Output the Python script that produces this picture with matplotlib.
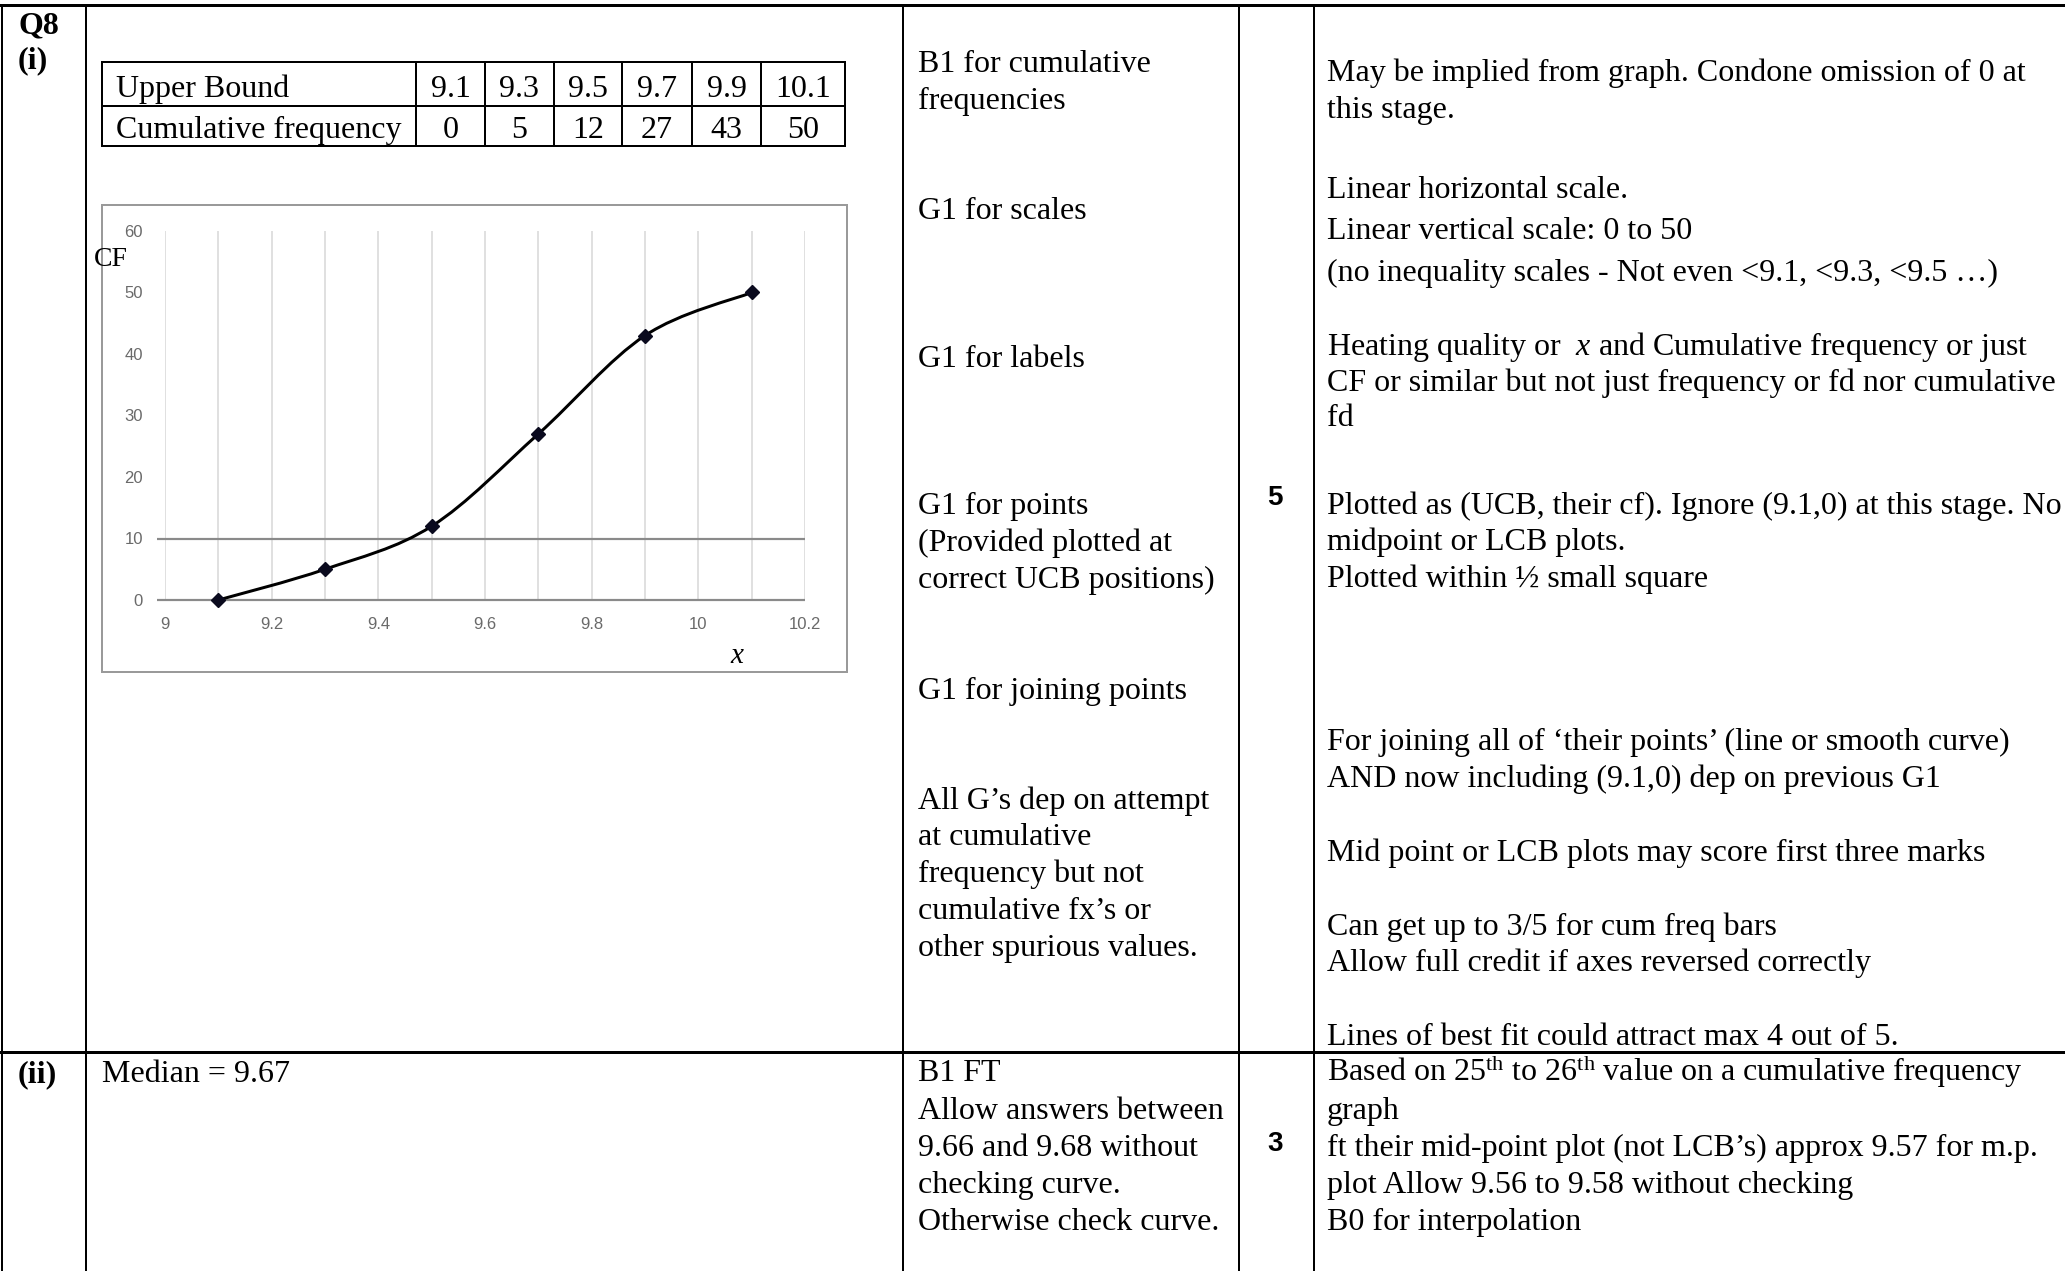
import numpy as np
import matplotlib.pyplot as plt
from matplotlib.path import Path
from matplotlib.patches import PathPatch, Rectangle

plt.rcParams['font.family'] = ['Liberation Serif', 'DejaVu Serif']
plt.rcParams['mathtext.fontset'] = 'custom'
plt.rcParams['mathtext.rm'] = 'Liberation Serif'
plt.rcParams['mathtext.it'] = 'Liberation Serif:italic'

# ---- data ----
upper_bound = [9.1, 9.3, 9.5, 9.7, 9.9, 10.1]
cum_freq = [0, 5, 12, 27, 43, 50]
x_ticks = [9, 9.2, 9.4, 9.6, 9.8, 10, 10.2]
x_tick_labels = ['9', '9.2', '9.4', '9.6', '9.8', '10', '10.2']
y_ticks = [0, 10, 20, 30, 40, 50, 60]
ref_lines = [0, 10]

marks_i = [
    (72, 'B1 for cumulative'), (109, 'frequencies'),
    (219, 'G1 for scales'),
    (367, 'G1 for labels'),
    (514, 'G1 for points'), (551, '(Provided plotted at'), (588, 'correct UCB positions)'),
    (699, 'G1 for joining points'),
    (809, 'All G\u2019s dep on attempt'), (845, 'at cumulative'),
    (882, 'frequency but not'), (919, 'cumulative fx\u2019s or'), (956, 'other spurious values.'),
]
notes_i = [
    (81, 'May be implied from graph. Condone omission of 0 at'), (118, 'this stage.'),
    (198, 'Linear horizontal scale.'),
    (239, 'Linear vertical scale: 0 to 50'),
    (281, '(no inequality scales - Not even <9.1, <9.3, <9.5 \u2026)'),
    (355, 'Heating quality or  $\\mathit{x}$ and Cumulative frequency or just'),
    (391, 'CF or similar but not just frequency or fd nor cumulative'),
    (426, 'fd'),
    (514, 'Plotted as (UCB, their cf). Ignore (9.1,0) at this stage. No'),
    (550, 'midpoint or LCB plots.'),
    (587, 'Plotted within \u00bd small square'),
    (750, 'For joining all of \u2018their points\u2019 (line or smooth curve)'),
    (787, 'AND now including (9.1,0) dep on previous G1'),
    (861, 'Mid point or LCB plots may score first three marks'),
    (935, 'Can get up to 3/5 for cum freq bars'),
    (971, 'Allow full credit if axes reversed correctly'),
    (1045, 'Lines of best fit could attract max 4 out of 5.'),
]
marks_ii = [
    (1081, 'B1 FT'), (1119, 'Allow answers between'), (1156, '9.66 and 9.68 without'),
    (1193, 'checking curve.'), (1230, 'Otherwise check curve.'),
]
notes_ii = [
    (1081, 'Based on 25$^{\\mathrm{th}}$ to 26$^{\\mathrm{th}}$ value on a cumulative frequency'),
    (1119, 'graph'),
    (1156, 'ft their mid-point plot (not LCB\u2019s) approx 9.57 for m.p.'),
    (1193, 'plot Allow 9.56 to 9.58 without checking'),
    (1230, 'B0 for interpolation'),
]

W, H = 2065, 1271
FS = 23

fig = plt.figure(figsize=(W / 100, H / 100), dpi=100)
bg = fig.add_axes([0, 0, 1, 1])
bg.set_xlim(0, W)
bg.set_ylim(H, 0)
bg.axis('off')

# ---- table grid ----
px = 0.72
bg.plot([0, W], [5, 5], color='black', lw=3 * px)
bg.plot([0, W], [1052, 1052], color='black', lw=3 * px)
for xv in [2, 86, 903, 1239, 1314]:
    bg.plot([xv, xv], [5, H], color='black', lw=2 * px)

bg.text(18, 33, 'Q8', fontsize=FS, fontweight='bold')
bg.text(18, 68, '(i)', fontsize=FS, fontweight='bold')
bg.text(18, 1082, '(ii)', fontsize=FS, fontweight='bold')
bg.text(102, 1082, 'Median = 9.67', fontsize=FS)

for yb, s in marks_i + marks_ii:
    bg.text(918, yb, s, fontsize=FS)
for yb, s in notes_i + notes_ii:
    bg.text(1327, yb, s, fontsize=FS, clip_on=True)

bg.text(1275, 498, '5', fontsize=20, fontweight='bold', family='Liberation Sans',
        ha='center', va='center')
bg.text(1275, 1144, '3', fontsize=20, fontweight='bold', family='Liberation Sans',
        ha='center', va='center')

# ---- small data table ----
col_x = [102, 416, 485, 554, 622, 692, 761, 845]
row_y = [62, 106, 146]
for yv in row_y:
    bg.plot([col_x[0], col_x[-1]], [yv, yv], color='black', lw=2 * px)
for xv in col_x:
    bg.plot([xv, xv], [row_y[0], row_y[-1]], color='black', lw=2 * px)
bg.text(116, 97, 'Upper Bound', fontsize=FS)
bg.text(116, 138, 'Cumulative frequency', fontsize=FS)
for i, (ub, cf) in enumerate(zip(upper_bound, cum_freq)):
    cx = (col_x[i + 1] + col_x[i + 2]) / 2
    bg.text(cx, 97, f'{ub:g}', fontsize=FS, ha='center')
    bg.text(cx, 138, f'{cf}', fontsize=FS, ha='center')

# ---- chart box ----
bg.add_patch(Rectangle((102, 205), 745, 467, fill=False, edgecolor='#9a9a9a', lw=2 * px))
bg.text(94, 266, 'CF', fontsize=20)
bg.text(738, 663, '$\\mathit{x}$', fontsize=21, ha='center')

# ---- the chart ----
ax = fig.add_axes([165 / W, 1 - 600 / H, (805 - 165) / W, (600 - 231) / H])
ax.set_facecolor('none')
ax.set_xlim(9, 10.2)
ax.set_ylim(0, 60)
for s in ax.spines.values():
    s.set_visible(False)
ax.set_xticks(x_ticks)
ax.set_xticklabels(x_tick_labels)
ax.set_yticks(y_ticks)
ax.set_xticks(np.round(np.arange(9, 10.21, 0.1), 1), minor=True)
ax.tick_params(which='both', length=0, labelsize=12, labelcolor='#6a6a6a', pad=12)
ax.tick_params(axis='y', pad=16)
for lab in ax.get_xticklabels() + ax.get_yticklabels():
    lab.set_family('Liberation Sans')
ax.grid(which='both', axis='x', color='#d6d6d6', lw=1.5 * px)
ax.grid(False, axis='y')
ax.hlines(ref_lines, 8.985, 10.2, color='#8a8a8a', lw=2.2 * px, clip_on=False)

# smooth curve (Excel style bezier through the points)
pts = np.column_stack([upper_bound, cum_freq]).astype(float)
verts = [pts[0]]
codes = [Path.MOVETO]
n = len(pts)
for i in range(n - 1):
    p0 = pts[i - 1] if i > 0 else pts[i]
    p1, p2 = pts[i], pts[i + 1]
    p3 = pts[i + 2] if i + 2 < n else pts[i + 1]
    c1 = p1 + (p2 - p0) / 6
    c2 = p2 - (p3 - p1) / 6
    verts += [c1, c2, p2]
    codes += [Path.CURVE4] * 3
ax.add_patch(PathPatch(Path(verts, codes), fill=False, edgecolor='black', lw=3 * px, zorder=3))
ax.plot(upper_bound, cum_freq, linestyle='none', marker='D', markersize=7,
        color='#0a0a1e', zorder=4, clip_on=False)

fig.savefig('out.png', dpi=100)
